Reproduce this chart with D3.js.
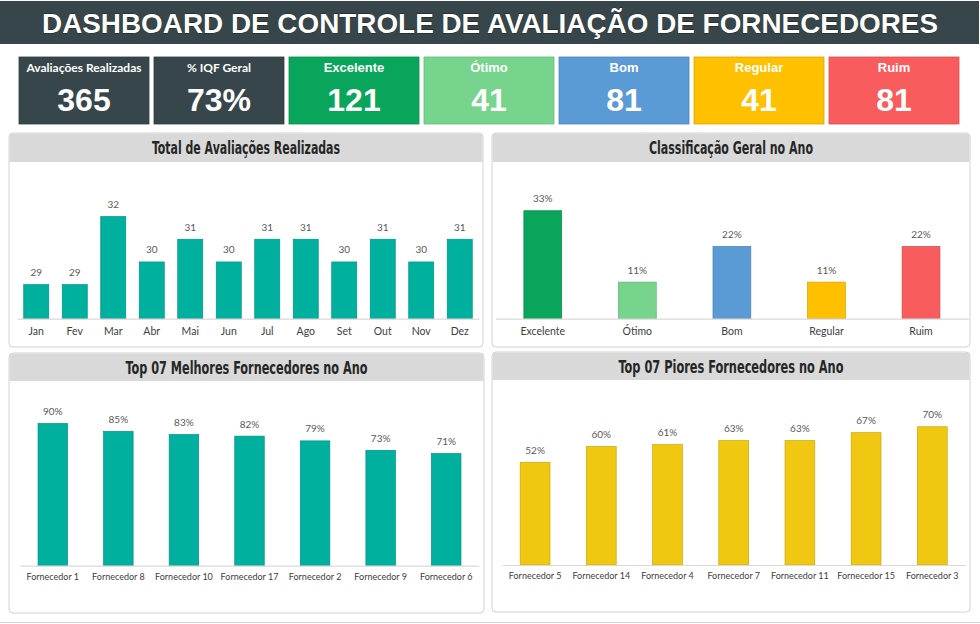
<!DOCTYPE html>
<html>
<head>
<meta charset="utf-8">
<script src="https://cdn.jsdelivr.net/npm/d3@7"></script>
<style>
  body { margin: 0; background: #fff; }
  svg { display: block; }
</style>
</head>
<body>
<svg id="dash"></svg>
<script>
// dados do painel
var tituloPainel = "DASHBOARD DE CONTROLE DE AVALIAÇÃO DE FORNECEDORES";
var totalAvaliacoes = 365;
var iqfGeral = 0.73;

var meses = ["Jan", "Fev", "Mar", "Abr", "Mai", "Jun", "Jul", "Ago", "Set", "Out", "Nov", "Dez"];
var avaliacoesMes = [29, 29, 32, 30, 31, 30, 31, 31, 30, 31, 30, 31];

var classes = ["Excelente", "Ótimo", "Bom", "Regular", "Ruim"];
var classesQtd = [121, 41, 81, 41, 81];
var classesCor = ["#09a55a", "#77d48d", "#5b9bd5", "#ffc000", "#f85c5c"];

var melhores = ["Fornecedor 1", "Fornecedor 8", "Fornecedor 10", "Fornecedor 17", "Fornecedor 2", "Fornecedor 9", "Fornecedor 6"];
var melhoresIqf = [0.90, 0.85, 0.83, 0.82, 0.79, 0.73, 0.71];

var piores = ["Fornecedor 5", "Fornecedor 14", "Fornecedor 4", "Fornecedor 7", "Fornecedor 11", "Fornecedor 15", "Fornecedor 3"];
var pioresIqf = [0.52, 0.60, 0.61, 0.63, 0.63, 0.67, 0.70];

var escuro = "#37464b";
var pct = d3.format(".0%");

var svg = d3.select("#dash").attr("width", 980).attr("height", 624);

// faixa do titulo
svg.append("rect").attr("x", 0).attr("y", 1).attr("width", 979).attr("height", 43).attr("fill", escuro);
svg.append("text")
  .attr("x", 490).attr("y", 33)
  .attr("text-anchor", "middle")
  .attr("font-family", "Liberation Sans, Arial, sans-serif")
  .attr("font-weight", "bold")
  .attr("font-size", 28.5)
  .attr("textLength", 896)
  .attr("lengthAdjust", "spacingAndGlyphs")
  .attr("fill", "#fff")
  .attr("stroke", "#222")
  .attr("stroke-width", 0.8)
  .attr("paint-order", "stroke")
  .text(tituloPainel);

// cartoes
var cartoes = [
  { rotulo: "Avaliações Realizadas", valor: String(totalAvaliacoes), cor: escuro, fonte: "Lato, sans-serif" },
  { rotulo: "% IQF Geral", valor: pct(iqfGeral), cor: escuro, fonte: "Lato, sans-serif" }
];
classes.forEach(function(c, i) {
  cartoes.push({ rotulo: c, valor: String(classesQtd[i]), cor: classesCor[i], fonte: "Liberation Sans, Arial, sans-serif" });
});

var card = svg.selectAll(".card").data(cartoes).enter().append("g")
  .attr("class", "card")
  .attr("transform", function(d, i) { return "translate(" + (19 + i * 135) + ",57)"; });

card.append("rect").attr("width", 130).attr("height", 67)
  .attr("fill", function(d) { return d.cor; })
  .attr("stroke", function(d) { return d3.color(d.cor).darker(0.4); })
  .attr("stroke-width", 0.8);

card.append("text")
  .attr("x", 65).attr("y", 15)
  .attr("text-anchor", "middle")
  .attr("font-family", function(d) { return d.fonte; })
  .attr("font-weight", "bold")
  .attr("font-size", function(d, i) { return i < 2 ? 12 : 13; })
  .attr("fill", "#fff")
  .text(function(d) { return d.rotulo; });

card.append("text")
  .attr("x", 65).attr("y", 54)
  .attr("text-anchor", "middle")
  .attr("font-family", "Liberation Sans, Arial, sans-serif")
  .attr("font-weight", "bold")
  .attr("font-size", 32)
  .attr("fill", "#fff")
  .text(function(d) { return d.valor; });

// paineis com graficos de barras
function painel(cfg) {
  var g = svg.append("g");
  g.append("rect")
    .attr("x", cfg.x).attr("y", cfg.y).attr("width", cfg.w).attr("height", cfg.h)
    .attr("rx", 4).attr("fill", "#fff").attr("stroke", "#d2d2d2");
  g.append("path")
    .attr("d", "M" + (cfg.x + 0.5) + "," + (cfg.y + cfg.hh) + "V" + (cfg.y + 4) +
      "q0,-3.5 3.5,-3.5H" + (cfg.x + cfg.w - 4) + "q3.5,0 3.5,3.5V" + (cfg.y + cfg.hh) + "Z")
    .attr("fill", "#d9d9d9");
  // titulo estreito, imitando fonte condensada
  g.append("text")
    .attr("x", cfg.x + cfg.w / 2).attr("y", cfg.y + cfg.hh / 2 + 6.5)
    .attr("text-anchor", "middle")
    .attr("font-family", "DejaVu Sans Condensed, sans-serif")
    .attr("font-weight", "bold")
    .attr("font-size", 17)
    .attr("textLength", cfg.tw)
    .attr("lengthAdjust", "spacingAndGlyphs")
    .attr("fill", "#262626")
    .text(cfg.titulo);

  var x = d3.scaleBand().domain(cfg.cats).range([cfg.x0, cfg.x1])
    .paddingInner(cfg.pad).paddingOuter(cfg.pad / 2);
  var y = d3.scaleLinear().domain(cfg.dom).range([cfg.base, cfg.base - cfg.ph]);
  var dados = cfg.cats.map(function(c, i) { return { c: c, v: cfg.vals[i], cor: cfg.cores ? cfg.cores[i] : cfg.cor }; });

  g.selectAll(".bar").data(dados).enter().append("rect")
    .attr("x", function(d) { return x(d.c); })
    .attr("y", function(d) { return y(d.v); })
    .attr("width", x.bandwidth())
    .attr("height", function(d) { return cfg.base - y(d.v); })
    .attr("fill", function(d) { return d.cor; })
    .attr("stroke", function(d) { return d3.color(d.cor).darker(0.5); })
    .attr("stroke-width", 0.7);

  g.selectAll(".lbl").data(dados).enter().append("text")
    .attr("x", function(d) { return x(d.c) + x.bandwidth() / 2; })
    .attr("y", function(d) { return y(d.v) - 8.5; })
    .attr("text-anchor", "middle")
    .attr("font-family", "Lato, sans-serif")
    .attr("font-size", 10)
    .attr("fill", "#595959")
    .text(function(d) { return cfg.fmt(d.v); });

  var eixo = g.append("g")
    .attr("transform", "translate(0," + cfg.base + ")")
    .call(d3.axisBottom(x).tickSize(0).tickPadding(cfg.tp));
  eixo.select(".domain").attr("stroke", "#d9d9d9").attr("stroke-width", 1.2);
  eixo.selectAll("text")
    .attr("font-family", "Lato, sans-serif")
    .attr("font-size", cfg.fs)
    .attr("fill", "#404040");
}

painel({
  titulo: "Total de Avaliações Realizadas", tw: 188,
  x: 9, y: 133, w: 474, h: 214, hh: 29,
  cats: meses, vals: avaliacoesMes, cor: "#00b09e",
  x0: 17, x1: 479, pad: 0.35, base: 318.7, ph: 113.5, dom: [27.5, 32.5],
  fmt: String, tp: 9, fs: 10.5
});

painel({
  titulo: "Classificação Geral no Ano", tw: 164,
  x: 492, y: 133, w: 478, h: 214, hh: 29,
  cats: classes, vals: classesQtd.map(function(q) { return q / totalAvaliacoes; }), cores: classesCor,
  x0: 495.5, x1: 968.3, pad: 0.6, base: 318.7, ph: 114, dom: [0, 0.35],
  fmt: pct, tp: 9, fs: 10.5
});

painel({
  titulo: "Top 07 Melhores Fornecedores no Ano", tw: 242,
  x: 9, y: 353, w: 475, h: 260, hh: 28,
  cats: melhores, vals: melhoresIqf, cor: "#00b09e",
  x0: 20, x1: 479, pad: 0.55, base: 565.7, ph: 158, dom: [0, 1],
  fmt: pct, tp: 8, fs: 9
});

painel({
  titulo: "Top 07 Piores Fornecedores no Ano", tw: 225,
  x: 492, y: 352, w: 478, h: 260, hh: 28,
  cats: piores, vals: pioresIqf, cor: "#f1c811",
  x0: 502, x1: 965.4, pad: 0.55, base: 565, ph: 158, dom: [0, 0.8],
  fmt: pct, tp: 8, fs: 9
});

svg.append("line").attr("x1", 0).attr("x2", 980).attr("y1", 622.5).attr("y2", 622.5)
  .attr("stroke", "#d6d6d6");
</script>
</body>
</html>
